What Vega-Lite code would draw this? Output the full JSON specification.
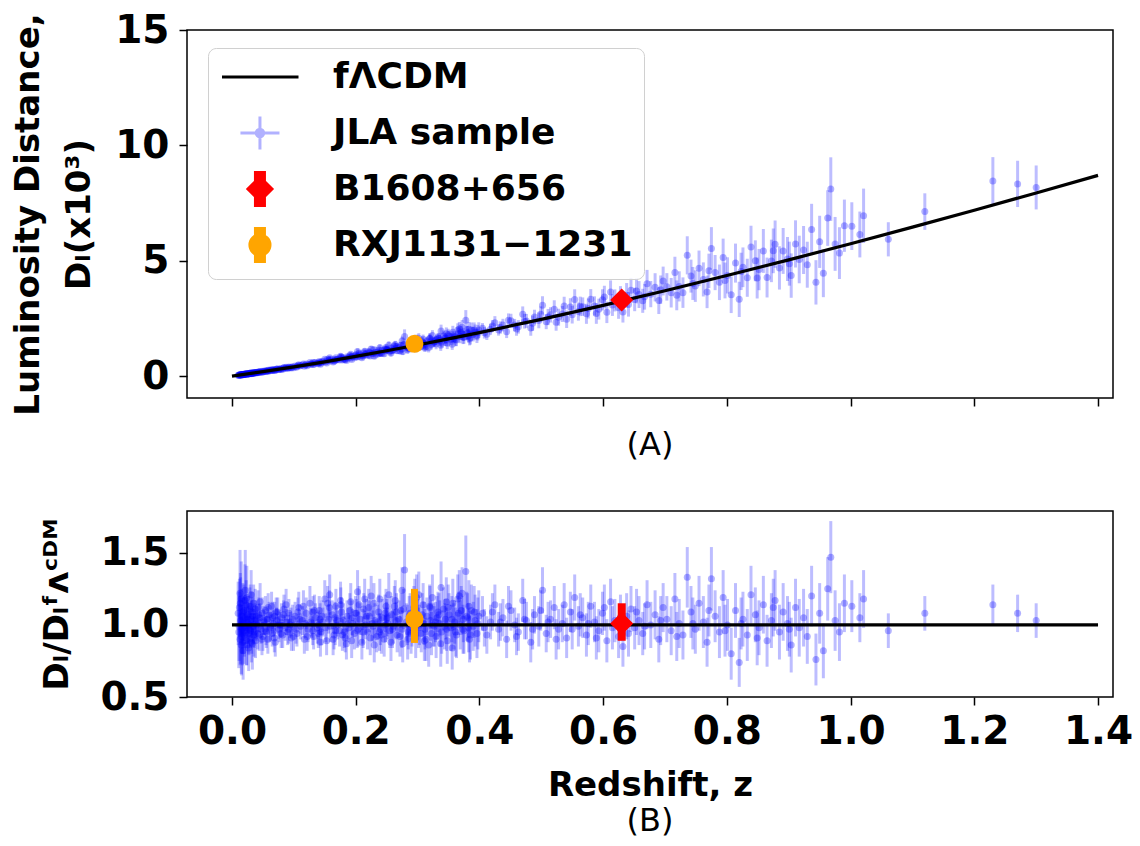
{
"$schema":"https://vega.github.io/schema/vega-lite/v6.json",
"background":"white",
"padding":{"left":10,"top":10,"right":5,"bottom":5},
"config":{
 "font":"DejaVu Sans",
 "view":{"stroke":"black","strokeWidth":1.5},
 "axis":{"grid":false,"domain":false,"tickColor":"black","tickWidth":1.5,"tickSize":8,"labelColor":"black","labelFont":"DejaVu Sans","labelFontWeight":"bold","labelFontSize":39,"labelPadding":4,"titleColor":"black","titleFont":"DejaVu Sans","titleFontWeight":"bold","titleFontSize":34}
},
"datasets":{
"jla":[
{"z":0.010,"r":1.08,"e":0.22,"d":0.041,"s":0.008},
{"z":0.011,"r":0.95,"e":0.25,"d":0.039,"s":0.010},
{"z":0.012,"r":1.12,"e":0.20,"d":0.050,"s":0.009},
{"z":0.013,"r":0.90,"e":0.18,"d":0.044,"s":0.009},
{"z":0.014,"r":1.03,"e":0.30,"d":0.054,"s":0.016},
{"z":0.015,"r":1.18,"e":0.26,"d":0.067,"s":0.015},
{"z":0.016,"r":0.97,"e":0.17,"d":0.058,"s":0.010},
{"z":0.016,"r":1.06,"e":0.19,"d":0.064,"s":0.011},
{"z":0.017,"r":0.88,"e":0.16,"d":0.056,"s":0.010},
{"z":0.018,"r":1.01,"e":0.21,"d":0.068,"s":0.014},
{"z":0.019,"r":1.10,"e":0.18,"d":0.079,"s":0.013},
{"z":0.020,"r":0.93,"e":0.15,"d":0.070,"s":0.011},
{"z":0.021,"r":1.05,"e":0.16,"d":0.083,"s":0.013},
{"z":0.022,"r":0.98,"e":0.14,"d":0.081,"s":0.012},
{"z":0.023,"r":1.14,"e":0.17,"d":0.099,"s":0.015},
{"z":0.024,"r":0.86,"e":0.14,"d":0.078,"s":0.013},
{"z":0.025,"r":1.02,"e":0.15,"d":0.097,"s":0.014},
{"z":0.026,"r":1.07,"e":0.13,"d":0.106,"s":0.013},
{"z":0.027,"r":0.94,"e":0.14,"d":0.096,"s":0.014},
{"z":0.028,"r":1.00,"e":0.12,"d":0.106,"s":0.013},
{"z":0.029,"r":1.11,"e":0.15,"d":0.122,"s":0.017},
{"z":0.030,"r":0.96,"e":0.12,"d":0.109,"s":0.014},
{"z":0.031,"r":1.04,"e":0.13,"d":0.123,"s":0.015},
{"z":0.032,"r":0.91,"e":0.11,"d":0.111,"s":0.013},
{"z":0.033,"r":1.09,"e":0.14,"d":0.137,"s":0.018},
{"z":0.034,"r":0.99,"e":0.12,"d":0.128,"s":0.016},
{"z":0.035,"r":1.15,"e":0.13,"d":0.154,"s":0.017},
{"z":0.036,"r":0.95,"e":0.11,"d":0.131,"s":0.015},
{"z":0.037,"r":1.03,"e":0.12,"d":0.146,"s":0.017},
{"z":0.038,"r":0.89,"e":0.12,"d":0.129,"s":0.017},
{"z":0.039,"r":1.06,"e":0.11,"d":0.158,"s":0.016},
{"z":0.040,"r":1.00,"e":0.10,"d":0.153,"s":0.015},
{"z":0.042,"r":1.12,"e":0.12,"d":0.180,"s":0.019},
{"z":0.044,"r":0.93,"e":0.11,"d":0.157,"s":0.019},
{"z":0.045,"r":1.05,"e":0.10,"d":0.182,"s":0.017},
{"z":0.047,"r":0.97,"e":0.10,"d":0.175,"s":0.018},
{"z":0.049,"r":1.08,"e":0.11,"d":0.204,"s":0.021},
{"z":0.050,"r":0.92,"e":0.10,"d":0.177,"s":0.019},
{"z":0.052,"r":1.02,"e":0.09,"d":0.205,"s":0.018},
{"z":0.054,"r":1.10,"e":0.10,"d":0.230,"s":0.021},
{"z":0.055,"r":0.96,"e":0.10,"d":0.204,"s":0.021},
{"z":0.057,"r":1.04,"e":0.09,"d":0.230,"s":0.020},
{"z":0.058,"r":0.90,"e":0.10,"d":0.203,"s":0.023},
{"z":0.060,"r":1.07,"e":0.09,"d":0.249,"s":0.021},
{"z":0.062,"r":0.99,"e":0.10,"d":0.239,"s":0.024},
{"z":0.064,"r":1.13,"e":0.10,"d":0.282,"s":0.025},
{"z":0.065,"r":0.94,"e":0.09,"d":0.238,"s":0.023},
{"z":0.067,"r":1.01,"e":0.09,"d":0.264,"s":0.024},
{"z":0.069,"r":1.06,"e":0.10,"d":0.286,"s":0.027},
{"z":0.070,"r":0.88,"e":0.10,"d":0.241,"s":0.027},
{"z":0.072,"r":1.03,"e":0.09,"d":0.291,"s":0.025},
{"z":0.074,"r":1.09,"e":0.10,"d":0.317,"s":0.029},
{"z":0.076,"r":0.97,"e":0.09,"d":0.290,"s":0.027},
{"z":0.078,"r":1.00,"e":0.09,"d":0.307,"s":0.028},
{"z":0.080,"r":1.05,"e":0.10,"d":0.331,"s":0.032},
{"z":0.082,"r":0.93,"e":0.09,"d":0.301,"s":0.029},
{"z":0.084,"r":1.11,"e":0.10,"d":0.369,"s":0.033},
{"z":0.086,"r":0.98,"e":0.09,"d":0.334,"s":0.031},
{"z":0.088,"r":1.02,"e":0.09,"d":0.356,"s":0.031},
{"z":0.090,"r":0.95,"e":0.09,"d":0.339,"s":0.032},
{"z":0.092,"r":1.08,"e":0.10,"d":0.395,"s":0.037},
{"z":0.094,"r":1.00,"e":0.09,"d":0.374,"s":0.034},
{"z":0.096,"r":0.91,"e":0.09,"d":0.348,"s":0.034},
{"z":0.098,"r":1.04,"e":0.10,"d":0.407,"s":0.039},
{"z":0.013,"r":1.22,"e":0.30,"d":0.060,"s":0.015},
{"z":0.018,"r":0.82,"e":0.20,"d":0.056,"s":0.014},
{"z":0.024,"r":1.19,"e":0.22,"d":0.108,"s":0.020},
{"z":0.015,"r":0.86,"e":0.20,"d":0.049,"s":0.011},
{"z":0.021,"r":1.17,"e":0.25,"d":0.093,"s":0.020},
{"z":0.027,"r":0.84,"e":0.16,"d":0.086,"s":0.016},
{"z":0.033,"r":0.87,"e":0.18,"d":0.109,"s":0.023},
{"z":0.031,"r":1.21,"e":0.17,"d":0.143,"s":0.020},
{"z":0.0115,"r":0.99,"e":0.24,"d":0.037,"s":0.009},
{"z":0.0135,"r":1.15,"e":0.21,"d":0.052,"s":0.009},
{"z":0.0155,"r":0.92,"e":0.27,"d":0.048,"s":0.014},
{"z":0.0175,"r":1.09,"e":0.20,"d":0.066,"s":0.012},
{"z":0.0195,"r":0.96,"e":0.23,"d":0.065,"s":0.016},
{"z":0.0215,"r":1.24,"e":0.28,"d":0.094,"s":0.021},
{"z":0.0235,"r":0.89,"e":0.17,"d":0.074,"s":0.014},
{"z":0.0255,"r":1.04,"e":0.16,"d":0.094,"s":0.015},
{"z":0.0275,"r":0.97,"e":0.18,"d":0.096,"s":0.018},
{"z":0.0295,"r":1.13,"e":0.15,"d":0.120,"s":0.016},
{"z":0.0315,"r":0.88,"e":0.14,"d":0.100,"s":0.016},
{"z":0.0335,"r":1.06,"e":0.13,"d":0.129,"s":0.016},
{"z":0.0355,"r":0.93,"e":0.15,"d":0.121,"s":0.019},
{"z":0.0375,"r":1.11,"e":0.14,"d":0.153,"s":0.019},
{"z":0.0395,"r":1.01,"e":0.12,"d":0.147,"s":0.017},
{"z":0.0415,"r":0.94,"e":0.11,"d":0.144,"s":0.017},
{"z":0.0435,"r":1.07,"e":0.12,"d":0.172,"s":0.019},
{"z":0.0455,"r":1.16,"e":0.13,"d":0.196,"s":0.022},
{"z":0.0485,"r":0.90,"e":0.11,"d":0.163,"s":0.020},
{"z":0.0515,"r":1.03,"e":0.10,"d":0.199,"s":0.019},
{"z":0.0555,"r":0.95,"e":0.11,"d":0.198,"s":0.023},
{"z":0.0585,"r":1.12,"e":0.10,"d":0.248,"s":0.022},
{"z":0.0615,"r":0.98,"e":0.10,"d":0.228,"s":0.023},
{"z":0.0655,"r":1.05,"e":0.11,"d":0.262,"s":0.027},
{"z":0.0685,"r":0.91,"e":0.10,"d":0.238,"s":0.026},
{"z":0.0715,"r":1.09,"e":0.10,"d":0.299,"s":0.027},
{"z":0.0755,"r":1.00,"e":0.10,"d":0.290,"s":0.029},
{"z":0.0795,"r":0.94,"e":0.10,"d":0.289,"s":0.031},
{"z":0.0835,"r":1.07,"e":0.10,"d":0.346,"s":0.032},
{"z":0.0875,"r":1.14,"e":0.11,"d":0.388,"s":0.037},
{"z":0.0915,"r":0.97,"e":0.10,"d":0.346,"s":0.036},
{"z":0.0955,"r":1.02,"e":0.10,"d":0.382,"s":0.037},
{"z":0.0995,"r":0.92,"e":0.10,"d":0.360,"s":0.039},
{"z":0.102,"r":1.06,"e":0.10,"d":0.433,"s":0.041},
{"z":0.105,"r":0.94,"e":0.09,"d":0.396,"s":0.038},
{"z":0.108,"r":1.12,"e":0.11,"d":0.487,"s":0.048},
{"z":0.111,"r":0.99,"e":0.09,"d":0.443,"s":0.040},
{"z":0.114,"r":1.03,"e":0.10,"d":0.475,"s":0.046},
{"z":0.117,"r":0.90,"e":0.10,"d":0.427,"s":0.047},
{"z":0.120,"r":1.08,"e":0.11,"d":0.526,"s":0.054},
{"z":0.123,"r":0.97,"e":0.09,"d":0.486,"s":0.045},
{"z":0.126,"r":1.15,"e":0.12,"d":0.591,"s":0.062},
{"z":0.129,"r":1.01,"e":0.10,"d":0.532,"s":0.053},
{"z":0.132,"r":0.92,"e":0.09,"d":0.497,"s":0.049},
{"z":0.135,"r":1.05,"e":0.10,"d":0.581,"s":0.055},
{"z":0.138,"r":0.98,"e":0.11,"d":0.555,"s":0.062},
{"z":0.141,"r":1.10,"e":0.10,"d":0.637,"s":0.058},
{"z":0.144,"r":0.95,"e":0.09,"d":0.563,"s":0.053},
{"z":0.147,"r":1.02,"e":0.10,"d":0.618,"s":0.061},
{"z":0.150,"r":1.18,"e":0.13,"d":0.730,"s":0.080},
{"z":0.153,"r":0.89,"e":0.10,"d":0.563,"s":0.063},
{"z":0.156,"r":1.04,"e":0.10,"d":0.673,"s":0.065},
{"z":0.159,"r":0.99,"e":0.11,"d":0.654,"s":0.073},
{"z":0.162,"r":1.07,"e":0.10,"d":0.722,"s":0.067},
{"z":0.165,"r":0.93,"e":0.10,"d":0.640,"s":0.069},
{"z":0.168,"r":1.13,"e":0.12,"d":0.794,"s":0.084},
{"z":0.171,"r":1.00,"e":0.10,"d":0.716,"s":0.072},
{"z":0.174,"r":0.96,"e":0.11,"d":0.701,"s":0.080},
{"z":0.177,"r":1.09,"e":0.10,"d":0.811,"s":0.074},
{"z":0.180,"r":1.03,"e":0.12,"d":0.781,"s":0.091},
{"z":0.183,"r":0.91,"e":0.10,"d":0.703,"s":0.077},
{"z":0.186,"r":1.06,"e":0.11,"d":0.833,"s":0.086},
{"z":0.189,"r":0.98,"e":0.10,"d":0.784,"s":0.080},
{"z":0.192,"r":1.16,"e":0.13,"d":0.944,"s":0.106},
{"z":0.195,"r":1.01,"e":0.10,"d":0.836,"s":0.083},
{"z":0.198,"r":0.94,"e":0.11,"d":0.791,"s":0.093},
{"z":0.201,"r":1.08,"e":0.10,"d":0.924,"s":0.086},
{"z":0.204,"r":0.97,"e":0.12,"d":0.845,"s":0.104},
{"z":0.207,"r":1.04,"e":0.11,"d":0.921,"s":0.097},
{"z":0.210,"r":0.88,"e":0.12,"d":0.792,"s":0.108},
{"z":0.213,"r":1.11,"e":0.11,"d":1.016,"s":0.101},
{"z":0.216,"r":1.00,"e":0.10,"d":0.930,"s":0.093},
{"z":0.219,"r":0.95,"e":0.12,"d":0.897,"s":0.113},
{"z":0.222,"r":1.06,"e":0.11,"d":1.017,"s":0.106},
{"z":0.225,"r":1.20,"e":0.14,"d":1.169,"s":0.136},
{"z":0.228,"r":0.99,"e":0.11,"d":0.979,"s":0.109},
{"z":0.231,"r":1.03,"e":0.12,"d":1.034,"s":0.120},
{"z":0.234,"r":0.92,"e":0.11,"d":0.937,"s":0.112},
{"z":0.237,"r":1.09,"e":0.12,"d":1.126,"s":0.124},
{"z":0.240,"r":0.97,"e":0.11,"d":1.016,"s":0.115},
{"z":0.243,"r":1.05,"e":0.13,"d":1.116,"s":0.138},
{"z":0.246,"r":0.90,"e":0.12,"d":0.970,"s":0.129},
{"z":0.249,"r":1.13,"e":0.12,"d":1.234,"s":0.131},
{"z":0.252,"r":1.01,"e":0.11,"d":1.118,"s":0.122},
{"z":0.255,"r":0.96,"e":0.12,"d":1.077,"s":0.135},
{"z":0.258,"r":1.07,"e":0.13,"d":1.217,"s":0.148},
{"z":0.261,"r":0.99,"e":0.12,"d":1.141,"s":0.138},
{"z":0.264,"r":1.17,"e":0.14,"d":1.366,"s":0.163},
{"z":0.267,"r":0.93,"e":0.12,"d":1.100,"s":0.142},
{"z":0.270,"r":1.04,"e":0.13,"d":1.245,"s":0.156},
{"z":0.273,"r":1.10,"e":0.12,"d":1.334,"s":0.146},
{"z":0.276,"r":0.87,"e":0.13,"d":1.068,"s":0.160},
{"z":0.279,"r":1.38,"e":0.25,"d":1.715,"s":0.311},
{"z":0.282,"r":1.02,"e":0.13,"d":1.283,"s":0.164},
{"z":0.285,"r":0.95,"e":0.12,"d":1.209,"s":0.153},
{"z":0.288,"r":1.08,"e":0.14,"d":1.391,"s":0.180},
{"z":0.291,"r":0.98,"e":0.13,"d":1.277,"s":0.169},
{"z":0.294,"r":1.12,"e":0.15,"d":1.476,"s":0.198},
{"z":0.297,"r":0.91,"e":0.14,"d":1.213,"s":0.187},
{"z":0.300,"r":1.05,"e":0.13,"d":1.415,"s":0.175},
{"z":0.303,"r":1.00,"e":0.14,"d":1.364,"s":0.191},
{"z":0.306,"r":0.94,"e":0.13,"d":1.297,"s":0.179},
{"z":0.309,"r":1.14,"e":0.15,"d":1.591,"s":0.209},
{"z":0.312,"r":0.97,"e":0.14,"d":1.369,"s":0.198},
{"z":0.315,"r":1.06,"e":0.13,"d":1.513,"s":0.186},
{"z":0.318,"r":0.86,"e":0.15,"d":1.241,"s":0.216},
{"z":0.321,"r":1.03,"e":0.14,"d":1.503,"s":0.204},
{"z":0.324,"r":1.19,"e":0.16,"d":1.755,"s":0.236},
{"z":0.327,"r":0.99,"e":0.14,"d":1.476,"s":0.209},
{"z":0.330,"r":0.92,"e":0.15,"d":1.386,"s":0.226},
{"z":0.333,"r":1.09,"e":0.14,"d":1.659,"s":0.213},
{"z":0.336,"r":1.01,"e":0.16,"d":1.553,"s":0.246},
{"z":0.339,"r":0.95,"e":0.15,"d":1.476,"s":0.233},
{"z":0.342,"r":1.11,"e":0.15,"d":1.742,"s":0.235},
{"z":0.345,"r":1.04,"e":0.14,"d":1.649,"s":0.222},
{"z":0.348,"r":0.89,"e":0.16,"d":1.425,"s":0.256},
{"z":0.351,"r":1.07,"e":0.15,"d":1.731,"s":0.243},
{"z":0.354,"r":0.98,"e":0.16,"d":1.601,"s":0.261},
{"z":0.357,"r":1.15,"e":0.17,"d":1.898,"s":0.281},
{"z":0.360,"r":1.02,"e":0.15,"d":1.700,"s":0.250},
{"z":0.363,"r":0.93,"e":0.16,"d":1.565,"s":0.269},
{"z":0.366,"r":1.08,"e":0.15,"d":1.836,"s":0.255},
{"z":0.369,"r":1.00,"e":0.17,"d":1.716,"s":0.292},
{"z":0.372,"r":1.22,"e":0.18,"d":2.114,"s":0.312},
{"z":0.375,"r":0.96,"e":0.16,"d":1.679,"s":0.280},
{"z":0.378,"r":1.37,"e":0.25,"d":2.419,"s":0.441},
{"z":0.381,"r":1.05,"e":0.17,"d":1.871,"s":0.303},
{"z":0.384,"r":0.90,"e":0.16,"d":1.618,"s":0.288},
{"z":0.387,"r":1.10,"e":0.18,"d":1.996,"s":0.327},
{"z":0.390,"r":0.99,"e":0.17,"d":1.813,"s":0.311},
{"z":0.393,"r":1.03,"e":0.18,"d":1.903,"s":0.333},
{"z":0.396,"r":0.94,"e":0.17,"d":1.752,"s":0.317},
{"z":0.399,"r":1.06,"e":0.18,"d":1.993,"s":0.338},
{"z":0.131,"r":1.09,"e":0.11,"d":0.584,"s":0.059},
{"z":0.143,"r":0.88,"e":0.10,"d":0.518,"s":0.059},
{"z":0.158,"r":1.21,"e":0.14,"d":0.794,"s":0.092},
{"z":0.167,"r":0.96,"e":0.10,"d":0.670,"s":0.070},
{"z":0.176,"r":1.14,"e":0.12,"d":0.843,"s":0.089},
{"z":0.185,"r":0.87,"e":0.11,"d":0.680,"s":0.086},
{"z":0.194,"r":1.05,"e":0.12,"d":0.864,"s":0.099},
{"z":0.203,"r":1.23,"e":0.15,"d":1.065,"s":0.130},
{"z":0.212,"r":0.95,"e":0.11,"d":0.865,"s":0.100},
{"z":0.221,"r":1.12,"e":0.13,"d":1.069,"s":0.124},
{"z":0.230,"r":0.86,"e":0.12,"d":0.859,"s":0.120},
{"z":0.239,"r":1.18,"e":0.14,"d":1.231,"s":0.146},
{"z":0.248,"r":1.00,"e":0.12,"d":1.087,"s":0.130},
{"z":0.257,"r":0.88,"e":0.13,"d":0.996,"s":0.147},
{"z":0.266,"r":1.09,"e":0.13,"d":1.283,"s":0.153},
{"z":0.275,"r":1.24,"e":0.16,"d":1.516,"s":0.196},
{"z":0.284,"r":0.90,"e":0.14,"d":1.141,"s":0.177},
{"z":0.293,"r":1.01,"e":0.13,"d":1.326,"s":0.171},
{"z":0.302,"r":1.21,"e":0.16,"d":1.644,"s":0.217},
{"z":0.311,"r":0.89,"e":0.14,"d":1.251,"s":0.197},
{"z":0.320,"r":1.12,"e":0.15,"d":1.628,"s":0.218},
{"z":0.329,"r":1.02,"e":0.14,"d":1.531,"s":0.210},
{"z":0.338,"r":1.26,"e":0.18,"d":1.951,"s":0.279},
{"z":0.347,"r":0.97,"e":0.15,"d":1.548,"s":0.239},
{"z":0.356,"r":0.84,"e":0.15,"d":1.382,"s":0.247},
{"z":0.365,"r":1.18,"e":0.17,"d":1.999,"s":0.288},
{"z":0.374,"r":1.04,"e":0.16,"d":1.813,"s":0.279},
{"z":0.383,"r":1.13,"e":0.18,"d":2.026,"s":0.323},
{"z":0.140,"r":1.00,"e":0.10,"d":0.575,"s":0.058},
{"z":0.250,"r":1.04,"e":0.12,"d":1.141,"s":0.132},
{"z":0.1035,"r":0.97,"e":0.10,"d":0.396,"s":0.041},
{"z":0.1095,"r":1.04,"e":0.10,"d":0.452,"s":0.043},
{"z":0.1155,"r":1.13,"e":0.11,"d":0.521,"s":0.051},
{"z":0.1215,"r":0.92,"e":0.10,"d":0.448,"s":0.049},
{"z":0.1275,"r":1.02,"e":0.10,"d":0.524,"s":0.051},
{"z":0.1335,"r":1.10,"e":0.11,"d":0.594,"s":0.059},
{"z":0.1395,"r":0.94,"e":0.10,"d":0.532,"s":0.057},
{"z":0.1455,"r":1.06,"e":0.11,"d":0.628,"s":0.065},
{"z":0.1515,"r":0.98,"e":0.10,"d":0.607,"s":0.062},
{"z":0.1575,"r":1.12,"e":0.12,"d":0.724,"s":0.078},
{"z":0.1635,"r":0.90,"e":0.11,"d":0.607,"s":0.074},
{"z":0.1695,"r":1.03,"e":0.11,"d":0.724,"s":0.077},
{"z":0.1755,"r":1.17,"e":0.13,"d":0.855,"s":0.095},
{"z":0.1815,"r":0.95,"e":0.11,"d":0.720,"s":0.083},
{"z":0.1875,"r":1.01,"e":0.11,"d":0.794,"s":0.086},
{"z":0.1935,"r":0.89,"e":0.12,"d":0.724,"s":0.098},
{"z":0.1995,"r":1.08,"e":0.12,"d":0.909,"s":0.101},
{"z":0.2055,"r":1.14,"e":0.13,"d":0.993,"s":0.113},
{"z":0.2115,"r":0.99,"e":0.12,"d":0.891,"s":0.108},
{"z":0.2175,"r":1.06,"e":0.12,"d":0.985,"s":0.112},
{"z":0.2235,"r":0.91,"e":0.12,"d":0.873,"s":0.115},
{"z":0.2295,"r":1.15,"e":0.14,"d":1.137,"s":0.138},
{"z":0.2355,"r":1.02,"e":0.12,"d":1.039,"s":0.122},
{"z":0.2415,"r":0.93,"e":0.13,"d":0.974,"s":0.136},
{"z":0.2475,"r":1.08,"e":0.13,"d":1.163,"s":0.140},
{"z":0.2535,"r":1.21,"e":0.15,"d":1.339,"s":0.166},
{"z":0.2595,"r":0.97,"e":0.13,"d":1.103,"s":0.148},
{"z":0.2655,"r":1.03,"e":0.13,"d":1.202,"s":0.152},
{"z":0.2715,"r":0.92,"e":0.14,"d":1.102,"s":0.168},
{"z":0.2775,"r":1.11,"e":0.14,"d":1.363,"s":0.172},
{"z":0.2835,"r":1.00,"e":0.14,"d":1.258,"s":0.176},
{"z":0.2895,"r":0.94,"e":0.14,"d":1.211,"s":0.180},
{"z":0.2955,"r":1.16,"e":0.16,"d":1.529,"s":0.211},
{"z":0.3015,"r":0.98,"e":0.14,"d":1.321,"s":0.189},
{"z":0.3075,"r":1.07,"e":0.15,"d":1.476,"s":0.207},
{"z":0.3135,"r":0.90,"e":0.15,"d":1.270,"s":0.212},
{"z":0.3195,"r":1.13,"e":0.15,"d":1.631,"s":0.216},
{"z":0.3255,"r":1.00,"e":0.15,"d":1.475,"s":0.221},
{"z":0.3315,"r":1.05,"e":0.15,"d":1.582,"s":0.226},
{"z":0.3375,"r":0.87,"e":0.16,"d":1.338,"s":0.246},
{"z":0.3435,"r":0.99,"e":0.16,"d":1.554,"s":0.251},
{"z":0.3495,"r":1.12,"e":0.16,"d":1.794,"s":0.256},
{"z":0.3555,"r":1.04,"e":0.16,"d":1.699,"s":0.261},
{"z":0.3615,"r":0.95,"e":0.17,"d":1.583,"s":0.283},
{"z":0.3675,"r":1.20,"e":0.18,"d":2.040,"s":0.306},
{"z":0.3735,"r":0.97,"e":0.17,"d":1.681,"s":0.295},
{"z":0.3795,"r":1.06,"e":0.17,"d":1.871,"s":0.300},
{"z":0.3855,"r":0.93,"e":0.17,"d":1.672,"s":0.306},
{"z":0.3915,"r":1.09,"e":0.18,"d":1.996,"s":0.330},
{"z":0.3975,"r":1.01,"e":0.18,"d":1.883,"s":0.336},
{"z":0.1065,"r":1.09,"e":0.10,"d":0.460,"s":0.042},
{"z":0.1185,"r":1.01,"e":0.10,"d":0.479,"s":0.047},
{"z":0.1305,"r":0.96,"e":0.10,"d":0.506,"s":0.053},
{"z":0.1425,"r":1.04,"e":0.11,"d":0.603,"s":0.064},
{"z":0.1545,"r":1.15,"e":0.12,"d":0.728,"s":0.076},
{"z":0.1665,"r":1.05,"e":0.11,"d":0.723,"s":0.076},
{"z":0.1785,"r":0.93,"e":0.11,"d":0.692,"s":0.082},
{"z":0.1905,"r":1.10,"e":0.12,"d":0.880,"s":0.096},
{"z":0.2025,"r":0.96,"e":0.12,"d":0.822,"s":0.103},
{"z":0.2145,"r":1.18,"e":0.14,"d":1.080,"s":0.128},
{"z":0.2265,"r":1.01,"e":0.12,"d":0.984,"s":0.117},
{"z":0.2385,"r":0.95,"e":0.13,"d":0.981,"s":0.134},
{"z":0.2505,"r":1.05,"e":0.13,"d":1.147,"s":0.142},
{"z":0.2625,"r":1.13,"e":0.14,"d":1.302,"s":0.161},
{"z":0.2745,"r":0.97,"e":0.13,"d":1.176,"s":0.158},
{"z":0.2865,"r":1.06,"e":0.14,"d":1.349,"s":0.178},
{"z":0.2985,"r":1.19,"e":0.16,"d":1.586,"s":0.213},
{"z":0.3105,"r":1.01,"e":0.15,"d":1.409,"s":0.209},
{"z":0.3225,"r":0.94,"e":0.15,"d":1.371,"s":0.219},
{"z":0.3345,"r":1.07,"e":0.15,"d":1.629,"s":0.228},
{"z":0.3465,"r":1.16,"e":0.17,"d":1.839,"s":0.270},
{"z":0.3585,"r":0.99,"e":0.16,"d":1.634,"s":0.264},
{"z":0.3705,"r":1.10,"e":0.17,"d":1.888,"s":0.292},
{"z":0.3825,"r":0.98,"e":0.17,"d":1.746,"s":0.303},
{"z":0.405,"r":1.08,"e":0.12,"d":2.068,"s":0.230},
{"z":0.412,"r":0.93,"e":0.13,"d":1.818,"s":0.254},
{"z":0.418,"r":1.02,"e":0.12,"d":2.029,"s":0.239},
{"z":0.425,"r":1.14,"e":0.14,"d":2.314,"s":0.284},
{"z":0.431,"r":0.97,"e":0.12,"d":2.002,"s":0.248},
{"z":0.438,"r":1.05,"e":0.13,"d":2.209,"s":0.274},
{"z":0.444,"r":0.90,"e":0.13,"d":1.925,"s":0.278},
{"z":0.451,"r":1.10,"e":0.14,"d":2.397,"s":0.305},
{"z":0.457,"r":1.00,"e":0.12,"d":2.213,"s":0.266},
{"z":0.463,"r":0.95,"e":0.13,"d":2.135,"s":0.292},
{"z":0.470,"r":1.17,"e":0.15,"d":2.677,"s":0.343},
{"z":0.476,"r":1.03,"e":0.13,"d":2.392,"s":0.302},
{"z":0.483,"r":0.88,"e":0.14,"d":2.079,"s":0.331},
{"z":0.489,"r":1.07,"e":0.13,"d":2.565,"s":0.312},
{"z":0.496,"r":0.99,"e":0.14,"d":2.413,"s":0.341},
{"z":0.502,"r":1.24,"e":0.16,"d":3.065,"s":0.396},
{"z":0.508,"r":0.94,"e":0.13,"d":2.358,"s":0.326},
{"z":0.515,"r":1.04,"e":0.13,"d":2.653,"s":0.332},
{"z":0.521,"r":1.12,"e":0.15,"d":2.898,"s":0.388},
{"z":0.528,"r":0.97,"e":0.14,"d":2.551,"s":0.368},
{"z":0.534,"r":1.01,"e":0.13,"d":2.692,"s":0.347},
{"z":0.541,"r":0.91,"e":0.14,"d":2.464,"s":0.379},
{"z":0.547,"r":1.09,"e":0.14,"d":2.991,"s":0.384},
{"z":0.554,"r":1.19,"e":0.16,"d":3.316,"s":0.446},
{"z":0.560,"r":0.99,"e":0.14,"d":2.795,"s":0.395},
{"z":0.567,"r":1.05,"e":0.14,"d":3.009,"s":0.401},
{"z":0.573,"r":0.93,"e":0.15,"d":2.699,"s":0.435},
{"z":0.580,"r":1.13,"e":0.15,"d":3.327,"s":0.442},
{"z":0.586,"r":1.02,"e":0.14,"d":3.040,"s":0.417},
{"z":0.593,"r":0.96,"e":0.15,"d":2.902,"s":0.453},
{"z":0.599,"r":1.08,"e":0.15,"d":3.304,"s":0.459},
{"z":0.606,"r":0.89,"e":0.15,"d":2.762,"s":0.465},
{"z":0.612,"r":1.16,"e":0.16,"d":3.644,"s":0.503},
{"z":0.619,"r":1.03,"e":0.15,"d":3.281,"s":0.478},
{"z":0.625,"r":0.92,"e":0.15,"d":2.965,"s":0.483},
{"z":0.632,"r":0.85,"e":0.14,"d":2.777,"s":0.457},
{"z":0.638,"r":1.06,"e":0.16,"d":3.504,"s":0.529},
{"z":0.645,"r":1.11,"e":0.16,"d":3.718,"s":0.536},
{"z":0.651,"r":0.98,"e":0.15,"d":3.320,"s":0.508},
{"z":0.658,"r":1.03,"e":0.17,"d":3.535,"s":0.583},
{"z":0.664,"r":0.94,"e":0.15,"d":3.262,"s":0.521},
{"z":0.671,"r":1.14,"e":0.17,"d":4.006,"s":0.597},
{"z":0.677,"r":1.00,"e":0.16,"d":3.552,"s":0.568},
{"z":0.684,"r":1.07,"e":0.17,"d":3.848,"s":0.611},
{"z":0.690,"r":0.90,"e":0.16,"d":3.271,"s":0.582},
{"z":0.697,"r":1.12,"e":0.17,"d":4.120,"s":0.625},
{"z":0.703,"r":1.04,"e":0.16,"d":3.867,"s":0.595},
{"z":0.710,"r":0.96,"e":0.17,"d":3.613,"s":0.640},
{"z":0.716,"r":1.18,"e":0.18,"d":4.488,"s":0.685},
{"z":0.723,"r":1.01,"e":0.17,"d":3.888,"s":0.654},
{"z":0.729,"r":0.93,"e":0.17,"d":3.617,"s":0.661},
{"z":0.736,"r":1.33,"e":0.21,"d":5.234,"s":0.826},
{"z":0.742,"r":1.09,"e":0.18,"d":4.333,"s":0.715},
{"z":0.749,"r":0.97,"e":0.17,"d":3.900,"s":0.684},
{"z":0.755,"r":1.15,"e":0.19,"d":4.670,"s":0.771},
{"z":0.762,"r":1.02,"e":0.18,"d":4.189,"s":0.739},
{"z":0.768,"r":0.88,"e":0.17,"d":3.649,"s":0.705},
{"z":0.775,"r":1.32,"e":0.22,"d":5.534,"s":0.922},
{"z":0.781,"r":1.06,"e":0.18,"d":4.486,"s":0.762},
{"z":0.788,"r":0.95,"e":0.18,"d":4.064,"s":0.770},
{"z":0.794,"r":1.19,"e":0.19,"d":5.138,"s":0.820},
{"z":0.801,"r":1.00,"e":0.18,"d":4.364,"s":0.785},
{"z":0.807,"r":0.80,"e":0.18,"d":3.524,"s":0.793},
{"z":0.814,"r":1.10,"e":0.19,"d":4.897,"s":0.846},
{"z":0.820,"r":0.74,"e":0.17,"d":3.325,"s":0.764},
{"z":0.826,"r":1.04,"e":0.19,"d":4.715,"s":0.861},
{"z":0.833,"r":0.93,"e":0.18,"d":4.261,"s":0.825},
{"z":0.839,"r":1.21,"e":0.20,"d":5.593,"s":0.924},
{"z":0.846,"r":1.07,"e":0.19,"d":4.997,"s":0.887},
{"z":0.852,"r":0.98,"e":0.19,"d":4.616,"s":0.895},
{"z":0.859,"r":1.14,"e":0.20,"d":5.424,"s":0.952},
{"z":0.865,"r":0.89,"e":0.18,"d":4.271,"s":0.864},
{"z":0.872,"r":1.03,"e":0.19,"d":4.992,"s":0.921},
{"z":0.878,"r":1.17,"e":0.21,"d":5.718,"s":1.026},
{"z":0.885,"r":0.95,"e":0.19,"d":4.688,"s":0.938},
{"z":0.891,"r":1.09,"e":0.20,"d":5.424,"s":0.995},
{"z":0.898,"r":1.01,"e":0.19,"d":5.074,"s":0.954},
{"z":0.904,"r":0.86,"e":0.19,"d":4.356,"s":0.962},
{"z":0.911,"r":1.12,"e":0.20,"d":5.728,"s":1.023},
{"z":0.917,"r":0.98,"e":0.20,"d":5.053,"s":1.031},
{"z":0.924,"r":1.05,"e":0.20,"d":5.465,"s":1.041},
{"z":0.930,"r":0.92,"e":0.19,"d":4.827,"s":0.997},
{"z":0.937,"r":1.20,"e":0.21,"d":6.355,"s":1.112},
{"z":0.944,"r":0.76,"e":0.18,"d":4.062,"s":0.962},
{"z":0.950,"r":1.08,"e":0.21,"d":5.818,"s":1.131},
{"z":0.956,"r":0.82,"e":0.19,"d":4.452,"s":1.032},
{"z":0.963,"r":1.25,"e":0.22,"d":6.848,"s":1.205},
{"z":0.968,"r":1.47,"e":0.25,"d":8.104,"s":1.378},
{"z":0.975,"r":1.03,"e":0.21,"d":5.729,"s":1.168},
{"z":0.982,"r":0.95,"e":0.20,"d":5.330,"s":1.122},
{"z":0.990,"r":1.15,"e":0.20,"d":6.517,"s":1.133},
{"z":1.002,"r":1.13,"e":0.18,"d":6.499,"s":1.035},
{"z":1.015,"r":1.05,"e":0.17,"d":6.137,"s":0.994},
{"z":1.021,"r":1.18,"e":0.20,"d":6.948,"s":1.178},
{"z":0.408,"r":0.98,"e":0.13,"d":1.876,"s":0.249},
{"z":0.421,"r":1.09,"e":0.13,"d":2.168,"s":0.259},
{"z":0.434,"r":1.02,"e":0.13,"d":2.105,"s":0.268},
{"z":0.447,"r":1.13,"e":0.14,"d":2.417,"s":0.299},
{"z":0.460,"r":0.92,"e":0.13,"d":2.036,"s":0.288},
{"z":0.473,"r":1.04,"e":0.14,"d":2.379,"s":0.320},
{"z":0.486,"r":0.97,"e":0.14,"d":2.292,"s":0.331},
{"z":0.499,"r":1.10,"e":0.14,"d":2.681,"s":0.341},
{"z":0.511,"r":1.02,"e":0.14,"d":2.559,"s":0.351},
{"z":0.524,"r":0.90,"e":0.14,"d":2.328,"s":0.362},
{"z":0.537,"r":1.14,"e":0.15,"d":3.039,"s":0.400},
{"z":0.550,"r":0.97,"e":0.14,"d":2.662,"s":0.384},
{"z":0.563,"r":1.07,"e":0.15,"d":3.021,"s":0.423},
{"z":0.576,"r":1.01,"e":0.15,"d":2.931,"s":0.435},
{"z":0.589,"r":0.91,"e":0.15,"d":2.712,"s":0.447},
{"z":0.602,"r":1.12,"e":0.16,"d":3.426,"s":0.489},
{"z":0.615,"r":0.98,"e":0.15,"d":3.078,"s":0.471},
{"z":0.628,"r":1.05,"e":0.16,"d":3.384,"s":0.516},
{"z":0.641,"r":0.94,"e":0.16,"d":3.107,"s":0.529},
{"z":0.654,"r":1.09,"e":0.16,"d":3.693,"s":0.542},
{"z":0.667,"r":0.99,"e":0.16,"d":3.435,"s":0.555},
{"z":0.693,"r":1.03,"e":0.17,"d":3.744,"s":0.618},
{"z":0.719,"r":0.92,"e":0.17,"d":3.499,"s":0.647},
{"z":0.745,"r":1.01,"e":0.18,"d":4.015,"s":0.715},
{"z":0.771,"r":1.10,"e":0.18,"d":4.561,"s":0.746},
{"z":0.797,"r":0.96,"e":0.18,"d":4.145,"s":0.777},
{"z":0.823,"r":1.01,"e":0.18,"d":4.538,"s":0.809},
{"z":0.849,"r":0.91,"e":0.19,"d":4.250,"s":0.887},
{"z":0.875,"r":1.12,"e":0.20,"d":5.428,"s":0.969},
{"z":0.901,"r":0.97,"e":0.19,"d":4.873,"s":0.954},
{"z":1.061,"r":0.96,"e":0.12,"d":5.928,"s":0.741},
{"z":1.120,"r":1.08,"e":0.12,"d":7.130,"s":0.792},
{"z":1.230,"r":1.14,"e":0.14,"d":8.452,"s":1.038},
{"z":1.270,"r":1.08,"e":0.13,"d":8.330,"s":1.003},
{"z":1.300,"r":1.03,"e":0.12,"d":8.176,"s":0.953}
],
"model":[
{"z":0,"d":0},{"z":0.05,"d":0.193},{"z":0.1,"d":0.3997},{"z":0.15,"d":0.619},{"z":0.2,"d":0.851},{"z":0.25,"d":1.097},{"z":0.3,"d":1.348},{"z":0.35,"d":1.612},{"z":0.4,"d":1.886},{"z":0.5,"d":2.460},{"z":0.6,"d":3.065},{"z":0.7,"d":3.698},{"z":0.8,"d":4.357},{"z":0.9,"d":5.037},{"z":1.0,"d":5.737},{"z":1.1,"d":6.455},{"z":1.2,"d":7.189},{"z":1.3,"d":7.938},{"z":1.4,"d":8.70}
],
"unity":[{"z":0,"r":1},{"z":1.4,"r":1}],
"b1608":[{"z":0.63,"d":3.30,"dlo":3.02,"dhi":3.58,"r":1.01,"rlo":0.89,"rhi":1.15}],
"rxj":[{"z":0.295,"d":1.40,"dlo":1.25,"dhi":1.57,"r":1.04,"rlo":0.875,"rhi":1.25}]
},
"spacing":48,
"vconcat":[
{
 "width":926,"height":368,
 "title":{"text":"(A)","orient":"bottom","fontSize":32,"fontWeight":"normal","font":"DejaVu Sans","color":"black","offset":15},
 "layer":[
  {"data":{"name":"jla"},"mark":{"type":"errorbar","thickness":3,"opacity":0.26},
   "encoding":{
    "x":{"field":"z","type":"quantitative","scale":{"domain":[-0.0727,1.4242],"nice":false,"zero":false},"axis":{"values":[0,0.2,0.4,0.6,0.8,1.0,1.2,1.4],"labels":false,"title":null}},
    "y":{"field":"d","type":"quantitative","scale":{"domain":[-0.95,15],"nice":false,"zero":false},"axis":{"values":[0,5,10,15],"labelPadding":10,"title":["Luminosity Distance,","Dₗ(x10³)"],"titlePadding":18,"titleLineHeight":51}},
    "yError":{"field":"s"},
    "color":{"datum":"JLA sample","scale":{"domain":["fΛCDM","JLA sample","B1608+656","RXJ1131−1231"],"range":["black","blue","red","orange"]},
     "legend":{"title":null,"orient":"none","legendX":21,"legendY":18,"labelFontSize":36,"labelFontWeight":"bold","labelFont":"DejaVu Sans","labelColor":"black","labelBaseline":"middle","symbolSize":900,"labelOffset":78,"rowPadding":10,"padding":11,"strokeColor":"#d0d0d0","fillColor":"rgba(255,255,255,0.8)","cornerRadius":8,"labelLimit":600,
      "symbolType":{"expr":"datum.value === 'fΛCDM' ? 'M1.53,-1.1M-1,0H4.1M1.53,1.1' : datum.value === 'JLA sample' ? 'M0.23,0H2.83M1.53,-1.1V1.1M1.78,0A0.25,0.25 0 1,1 1.28,0A0.25,0.25 0 1,1 1.78,0Z' : datum.value === 'B1608+656' ? 'M1.23,-1.1H1.83V-0.5L2.33,0L1.83,0.5V1.1H1.23V0.5L0.73,0L1.23,-0.5Z' : 'M1.23,-1.1H1.83V1.1H1.23Z M2.2,0A0.67,0.67 0 1,1 0.86,0A0.67,0.67 0 1,1 2.2,0Z'"},
      "symbolFillColor":{"expr":"datum.value === 'fΛCDM' ? 'transparent' : datum.value === 'JLA sample' ? 'blue' : datum.value === 'B1608+656' ? 'red' : 'orange'"},
      "symbolStrokeColor":{"expr":"datum.value === 'fΛCDM' ? 'black' : datum.value === 'JLA sample' ? 'blue' : datum.value === 'B1608+656' ? 'red' : 'orange'"},
      "symbolOpacity":{"expr":"datum.value === 'JLA sample' ? 0.3 : 1"},
      "symbolStrokeWidth":3
     }}
   }},
  {"data":{"name":"jla"},"mark":{"type":"circle","size":49,"opacity":0.3},
   "encoding":{"x":{"field":"z","type":"quantitative"},"y":{"field":"d","type":"quantitative"},"color":{"datum":"JLA sample","legend":null}}},
  {"data":{"name":"model"},"mark":{"type":"line","strokeWidth":3.2},
   "encoding":{"x":{"field":"z","type":"quantitative"},"y":{"field":"d","type":"quantitative"},"color":{"datum":"fΛCDM","legend":null}}},
  {"data":{"name":"b1608"},"mark":{"type":"rule","strokeWidth":8},
   "encoding":{"x":{"field":"z","type":"quantitative"},"y":{"field":"dlo","type":"quantitative"},"y2":{"field":"dhi"},"color":{"datum":"B1608+656","legend":null}}},
  {"data":{"name":"b1608"},"mark":{"type":"point","shape":"diamond","filled":true,"size":530,"opacity":1},
   "encoding":{"x":{"field":"z","type":"quantitative"},"y":{"field":"d","type":"quantitative"},"color":{"datum":"B1608+656","legend":null}}},
  {"data":{"name":"rxj"},"mark":{"type":"rule","strokeWidth":7},
   "encoding":{"x":{"field":"z","type":"quantitative"},"y":{"field":"dlo","type":"quantitative"},"y2":{"field":"dhi"},"color":{"datum":"RXJ1131−1231","legend":null}}},
  {"data":{"name":"rxj"},"mark":{"type":"circle","size":324,"opacity":1},
   "encoding":{"x":{"field":"z","type":"quantitative"},"y":{"field":"d","type":"quantitative"},"color":{"datum":"RXJ1131−1231","legend":null}}}
 ]
},
{
 "width":926,"height":186,
 "title":{"text":"(B)","orient":"bottom","fontSize":32,"fontWeight":"normal","font":"DejaVu Sans","color":"black","offset":4},
 "layer":[
  {"data":{"name":"jla"},"mark":{"type":"errorbar","thickness":3,"opacity":0.26,"color":"blue"},
   "encoding":{
    "x":{"field":"z","type":"quantitative","scale":{"domain":[-0.0727,1.4242],"nice":false,"zero":false},"axis":{"values":[0,0.2,0.4,0.6,0.8,1.0,1.2,1.4],"format":".1f","labelPadding":7,"title":"Redshift, z","titlePadding":17}},
    "y":{"field":"r","type":"quantitative","scale":{"domain":[0.5,1.79],"nice":false,"zero":false},"axis":{"values":[0.5,1.0,1.5],"format":".1f","labelPadding":10,"title":"Dₗ/Dₗᶠᴧᶜᴰᴹ","titlePadding":25}},
    "yError":{"field":"e"}
   }},
  {"data":{"name":"jla"},"mark":{"type":"circle","size":49,"opacity":0.3,"color":"blue"},
   "encoding":{"x":{"field":"z","type":"quantitative"},"y":{"field":"r","type":"quantitative"}}},
  {"data":{"name":"unity"},"mark":{"type":"line","strokeWidth":3.2,"color":"black"},
   "encoding":{"x":{"field":"z","type":"quantitative"},"y":{"field":"r","type":"quantitative"}}},
  {"data":{"name":"b1608"},"mark":{"type":"rule","strokeWidth":8,"color":"red"},
   "encoding":{"x":{"field":"z","type":"quantitative"},"y":{"field":"rlo","type":"quantitative"},"y2":{"field":"rhi"}}},
  {"data":{"name":"b1608"},"mark":{"type":"point","shape":"diamond","filled":true,"size":530,"opacity":1,"color":"red"},
   "encoding":{"x":{"field":"z","type":"quantitative"},"y":{"field":"r","type":"quantitative"}}},
  {"data":{"name":"rxj"},"mark":{"type":"rule","strokeWidth":7,"color":"orange"},
   "encoding":{"x":{"field":"z","type":"quantitative"},"y":{"field":"rlo","type":"quantitative"},"y2":{"field":"rhi"}}},
  {"data":{"name":"rxj"},"mark":{"type":"circle","size":324,"opacity":1,"color":"orange"},
   "encoding":{"x":{"field":"z","type":"quantitative"},"y":{"field":"r","type":"quantitative"}}}
 ]
}
]
}
